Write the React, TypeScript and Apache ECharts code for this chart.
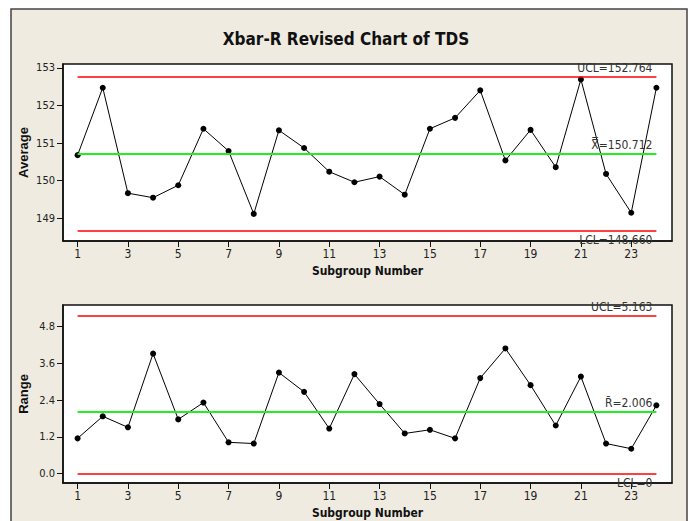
import React, { useEffect, useRef } from "react";
import * as echarts from "echarts";

const subgroups = [1, 2, 3, 4, 5, 6, 7, 8, 9, 10, 11, 12, 13, 14, 15, 16, 17, 18, 19, 20, 21, 22, 23, 24];
const averages = [150.68, 152.47, 149.67, 149.55, 149.88, 151.38, 150.79, 149.12, 151.34, 150.87, 150.24, 149.96,
  150.11, 149.63, 151.38, 151.67, 152.4, 150.54, 151.35, 150.36, 152.69, 150.18, 149.15, 152.47];
const ranges = [1.15, 1.87, 1.51, 3.92, 1.77, 2.32, 1.02, 0.98, 3.3, 2.67, 1.47, 3.25,
  2.27, 1.31, 1.43, 1.15, 3.12, 4.09, 2.89, 1.57, 3.17, 0.98, 0.81, 2.23];
const xTicks = [1, 3, 5, 7, 9, 11, 13, 15, 17, 19, 21, 23];
const avgTicks = [149, 150, 151, 152, 153];
const rangeTicks = [0, 1.2, 2.4, 3.6, 4.8];
const xbarLimits = { ucl: 152.764, center: 150.712, lcl: 148.66 };
const rLimits = { ucl: 5.163, center: 2.006, lcl: 0 };

const NARROW = "'Liberation Sans Narrow', 'DejaVu Sans Condensed', 'Liberation Sans', sans-serif";

export default function App() {
  const ref = useRef<HTMLDivElement>(null);
  useEffect(() => {
    if (!ref.current) return;
    const chart = echarts.init(ref.current, null, { renderer: "svg" });
    const first = subgroups[0];
    const last = subgroups[subgroups.length - 1];

    const xAxisBase = (gridIndex: number) => ({
      type: "value",
      gridIndex,
      min: 0.42,
      max: 24.62,
      name: "Subgroup Number",
      nameLocation: "middle",
      nameGap: 24,
      nameTextStyle: { fontFamily: NARROW, fontWeight: "bold", fontSize: 12, color: "#111" },
      axisLine: { show: true, onZero: false, lineStyle: { color: "#111", width: 1.5 } },
      axisTick: { show: true, length: 6, customValues: xTicks, lineStyle: { color: "#111" } },
      axisLabel: { customValues: xTicks, margin: 7, fontFamily: NARROW, fontSize: 12, color: "#222" },
      splitLine: { show: false },
    });

    const yAxisBase = (gridIndex: number, name: string, min: number, max: number, ticks: number[], fmt: (v: number) => string) => ({
      type: "value",
      gridIndex,
      min,
      max,
      name,
      nameLocation: "middle",
      nameGap: 33,
      nameMoveOverlap: false,
      nameTextStyle: { fontFamily: "'Liberation Sans', Arial, sans-serif", fontWeight: "bold", fontSize: 13, color: "#111" },
      axisLine: { show: true, lineStyle: { color: "#111", width: 1.5 } },
      axisTick: { show: true, length: 6, customValues: ticks, lineStyle: { color: "#111" } },
      axisLabel: { customValues: ticks, margin: 8, fontFamily: NARROW, fontSize: 11, color: "#222", formatter: fmt },
      splitLine: { show: false },
    });

    const ctrl = (v: number, color: string, width: number, text: string, pos: string) => [
      {
        coord: [first, v],
        lineStyle: { color, width, type: "solid" },
        label: {
          show: true,
          formatter: text,
          position: pos,
          distance: [4, 3],
          fontFamily: NARROW,
          fontSize: 12,
          color: "#333",
        },
      },
      { coord: [last, v] },
    ];

    const limitSeries = (idx: number, lim: { ucl: number; center: number; lcl: number }, centerText: string, uclText: string, lclText: string) => ({
      type: "line",
      xAxisIndex: idx,
      yAxisIndex: idx,
      data: [],
      z: 1,
      silent: true,
      markLine: {
        symbol: "none",
        silent: true,
        animation: false,
        data: [
          ctrl(lim.ucl, "#ff0000", 1.5, uclText, "insideEndTop"),
          ctrl(lim.center, "#22ee22", 2, centerText, "insideEndTop"),
          ctrl(lim.lcl, "#ff0000", 1.5, lclText, "insideEndBottom"),
        ],
      },
    });

    const dataSeries = (idx: number, values: number[]) => ({
      type: "line",
      xAxisIndex: idx,
      yAxisIndex: idx,
      data: subgroups.map((s, i) => [s, values[i]]),
      z: 3,
      symbol: "circle",
      symbolSize: 6,
      itemStyle: { color: "#000" },
      lineStyle: { color: "#000", width: 1 },
    });

    chart.setOption({
      animation: false,
      backgroundColor: "#ffffff",
      graphic: [
        {
          type: "rect",
          z: -10,
          shape: { x: 11, y: 9, width: 676, height: 540 },
          style: { fill: "#efebe1", stroke: "#444", lineWidth: 1.5 },
        },
      ],
      title: {
        text: "Xbar-R Revised Chart of TDS",
        left: "center",
        top: 25,
        textStyle: { fontFamily: NARROW, fontWeight: "bold", fontSize: 17, color: "#111" },
      },
      grid: [
        { left: 63, top: 64, width: 609, height: 177, show: true, backgroundColor: "#fff", borderColor: "#111", borderWidth: 1.5 },
        { left: 63, top: 305, width: 609, height: 178, show: true, backgroundColor: "#fff", borderColor: "#111", borderWidth: 1.5 },
      ],
      xAxis: [xAxisBase(0), xAxisBase(1)],
      yAxis: [
        yAxisBase(0, "Average", 148.4, 153.1, avgTicks, (v: number) => String(v)),
        yAxisBase(1, "Range", -0.31, 5.51, rangeTicks, (v: number) => v.toFixed(1)),
      ],
      series: [
        limitSeries(0, xbarLimits, "X\u033F=150.712", "UCL=152.764", "LCL=148.660"),
        dataSeries(0, averages),
        limitSeries(1, rLimits, "R\u0304=2.006", "UCL=5.163", "LCL=0"),
        dataSeries(1, ranges),
      ],
    });
    return () => chart.dispose();
  }, []);
  return <div ref={ref} style={{ position: "fixed", left: 0, top: 0, width: 692, height: 521 }} />;
}
